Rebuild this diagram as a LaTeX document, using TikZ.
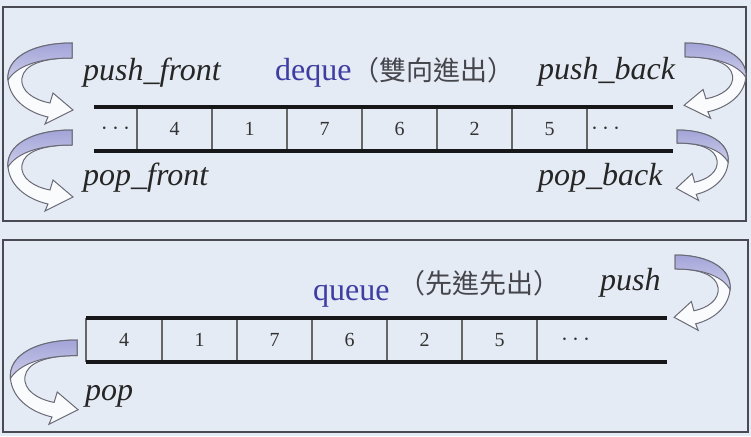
\documentclass[tikz,border=0pt]{standalone}
\usepackage{fontspec}
\setmainfont{Liberation Serif}
\newfontfamily\cjk{Noto Sans CJK TC}
\usepackage{tikz}
\usetikzlibrary{positioning}
\definecolor{paperBlue}{HTML}{E5EBF4}
\definecolor{frameGray}{HTML}{4A4A52}
\definecolor{railBlack}{HTML}{17171A}
\definecolor{ribbonLilac}{HTML}{A3A4D8}
\definecolor{ribbonEdge}{HTML}{6A6A76}
\definecolor{titleBlue}{HTML}{3D3DA2}
\definecolor{noteGray}{HTML}{45454C}

\tikzset{
  ribbon/.pic={
    \path[fill=white!80!paperBlue, draw=ribbonEdge, line width=1pt]
      (0,0) .. controls (-40,0) and (-66,15) .. (-64,37)
      .. controls (-62,58) and (-42,70) .. (-24,74)
      -- (-27,81) -- (1,67) -- (-19,50) -- (-22,60)
      .. controls (-38,57) and (-52,48) .. (-50,35)
      .. controls (-48,22) and (-30,15) .. (0,15) -- cycle;
    \path[top color=ribbonLilac, bottom color=ribbonLilac!55!white,
          draw=ribbonEdge, line width=1pt]
      (0,0) .. controls (-40,0) and (-66,15) .. (-64,37)
      .. controls (-56,24) and (-35,15) .. (0,15) -- cycle;
  }
}

\begin{document}
\begin{tikzpicture}[
  x=1pt, y=-1pt,
  frame/.style={draw=frameGray, line width=1.5pt},
  rail/.style={railBlack, line width=3.5pt},
  divider/.style={black!60, line width=1.2pt},
  cellbox/.style={
    minimum width=75pt, minimum height=44pt,
    inner sep=0pt, outer sep=0pt,
    font=\fontsize{20}{20}\selectfont, text=black!80
  },
  dotsbox/.style={cellbox, font=\fontsize{25}{25}\selectfont},
  opname/.style={
    inner sep=0pt, anchor=base west, text=black!85,
    font=\fontsize{32}{32}\selectfont\itshape
  },
  title/.style={
    inner sep=0pt, anchor=base west, text=titleBlue,
    font=\fontsize{32}{32}\selectfont
  },
  note/.style={
    inner sep=0pt, anchor=base west, text=noteGray,
    font=\cjk\fontsize{27}{27}\selectfont
  },
]

\useasboundingbox (0,0) rectangle (751,436);
\fill[paperBlue] (0,0) rectangle (751,436);

% Frames
\draw[frame] (3,7) rectangle (746,221);
\draw[frame] (3,240) rectangle (748,432);

% deque cells
\node[dotsbox, minimum width=43pt, anchor=west] (d0) at (94,129) {$\cdots$};
\node[cellbox, right=0pt of d0] (d1) {4};
\node[cellbox, right=0pt of d1] (d2) {1};
\node[cellbox, right=0pt of d2] (d3) {7};
\node[cellbox, right=0pt of d3] (d4) {6};
\node[cellbox, right=0pt of d4] (d5) {2};
\node[cellbox, right=0pt of d5] (d6) {5};
\node[dotsbox, minimum width=86pt, inner xsep=4pt, text width=78pt, align=left,
  right=0pt of d6] (d7) {$\cdots$};

\foreach \c in {d0,d1,d2,d3,d4,d5,d6} {
  \draw[divider] (\c.north east) -- (\c.south east);
}
\draw[rail] (d0.north west) -- (d7.north east);
\draw[rail] (d0.south west) -- (d7.south east);

% deque labels
\node[opname] (pushfront) at (83,80) {push\_front};
\node[title] (dequename) at (275,80) {deque};
\node[note] (dequenote) at (352,80) {（雙向進出）};
\node[opname] (pushback) at (538,79) {push\_back};
\node[opname] (popfront) at (83,185) {pop\_front};
\node[opname] (popback) at (538,185) {pop\_back};

% deque ribbons
\pic at (72,43) {ribbon};
\pic at (72,130) {ribbon};
\pic[xscale=-0.95, yscale=0.93] at (685,43) {ribbon};
\pic[xscale=-0.8, yscale=0.87] at (677,130) {ribbon};

% queue cells
\node[cellbox, minimum width=76pt, anchor=west] (q1) at (86,340) {4};
\node[cellbox, right=0pt of q1] (q2) {1};
\node[cellbox, right=0pt of q2] (q3) {7};
\node[cellbox, right=0pt of q3] (q4) {6};
\node[cellbox, right=0pt of q4] (q5) {2};
\node[cellbox, right=0pt of q5] (q6) {5};
\node[dotsbox, minimum width=130pt, inner xsep=24pt, text width=82pt, align=left,
  right=0pt of q6] (q7) {$\cdots$};

\draw[divider] (q1.north west) -- (q1.south west);
\foreach \c in {q1,q2,q3,q4,q5,q6} {
  \draw[divider] (\c.north east) -- (\c.south east);
}
\draw[rail] (q1.north west) -- (q7.north east);
\draw[rail] (q1.south west) -- (q7.south east);

% queue labels
\node[title] (queuename) at (313,300) {queue};
\node[note] (queuenote) at (398,293) {（先進先出）};
\node[opname] (pushq) at (600,290) {push};
\node[opname] (popq) at (85,400) {pop};

% queue ribbons
\pic[xscale=-0.86, yscale=0.93] at (675,255) {ribbon};
\pic[xscale=1.04, yscale=1.04] at (77,340) {ribbon};

\end{tikzpicture}
\end{document}
